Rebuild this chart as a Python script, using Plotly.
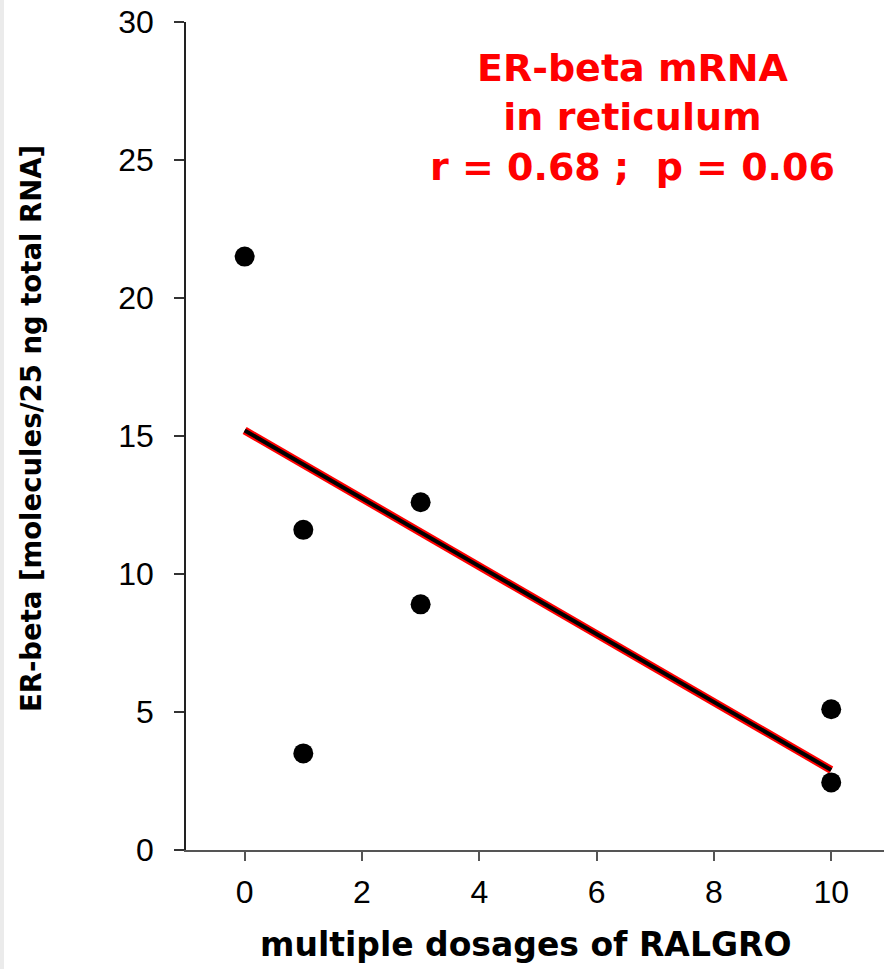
import plotly.graph_objects as go

# data
dose = [0, 1, 1, 3, 3, 10, 10]
er_beta = [21.5, 11.6, 3.5, 12.6, 8.9, 5.1, 2.45]
fit_x = [0, 10]
fit_y = [15.2, 2.9]
x_ticks = [0, 2, 4, 6, 8, 10]
y_ticks = [0, 5, 10, 15, 20, 25, 30]

fig = go.Figure()
fig.add_trace(go.Scatter(x=fit_x, y=fit_y, mode="lines",
                         line=dict(color="#ff0000", width=8), hoverinfo="skip"))
fig.add_trace(go.Scatter(x=fit_x, y=fit_y, mode="lines",
                         line=dict(color="#000000", width=4), hoverinfo="skip"))
fig.add_trace(go.Scatter(x=dose, y=er_beta, mode="markers",
                         marker=dict(color="#000000", size=20, line=dict(width=0))))

L, R, T, B = 186, 0, 22, 119
W, H = 884, 969
pw = W - L - R
ph = H - T - B

fig.update_layout(
    width=W, height=H,
    margin=dict(l=L, r=R, t=T, b=B, pad=0),
    paper_bgcolor="white", plot_bgcolor="white",
    showlegend=False,
    font=dict(family="Liberation Sans, Arial, sans-serif", color="#000000"),
    xaxis=dict(range=[-1.0, 10.9], tickvals=x_ticks, ticks="outside", ticklen=9,
               tickwidth=1.5, tickcolor="#555555", showline=True, linecolor="#555555",
               linewidth=2, showgrid=False, zeroline=False,
               tickfont=dict(size=32), ticklabelstandoff=4),
    yaxis=dict(range=[0, 30], tickvals=y_ticks, ticks="outside", ticklen=10,
               tickwidth=1.5, tickcolor="#333333", showline=True, linecolor="#222222",
               linewidth=1.5, showgrid=False, zeroline=False,
               tickfont=dict(size=32), ticklabelstandoff=14),
    shapes=[dict(type="rect", xref="paper", yref="paper",
                 x0=-L / pw, x1=(4 - L) / pw, y0=-B / ph, y1=(ph + T) / ph,
                 fillcolor="#ebebeb", line=dict(width=0), layer="below")],
    annotations=[
        dict(text="<b>ER-beta [molecules/25 ng total RNA]</b>", xref="paper", yref="paper",
             x=(31 - L) / pw, y=(851 - 430) / ph, textangle=-90, showarrow=False,
             xanchor="center", yanchor="middle",
             font=dict(size=27.5, family="DejaVu Sans, sans-serif")),
        dict(text="<b>multiple dosages of RALGRO</b>", xref="paper", yref="paper",
             x=(525 - L) / pw, y=(851 - 945) / ph, showarrow=False,
             xanchor="center", yanchor="middle",
             font=dict(size=33, family="DejaVu Sans, sans-serif")),
        dict(text="<b>ER-beta mRNA<br>in reticulum<br>r = 0.68 ;  p = 0.06</b>",
             xref="paper", yref="paper",
             x=(632 - L) / pw, y=(851 - 119) / ph, showarrow=False,
             xanchor="center", yanchor="middle", align="center",
             font=dict(size=38, color="#ff0000", family="DejaVu Sans, sans-serif")),
    ],
)

fig.write_html("out.html", config={"displayModeBar": False},
               post_script="document.body.style.margin='0';")
